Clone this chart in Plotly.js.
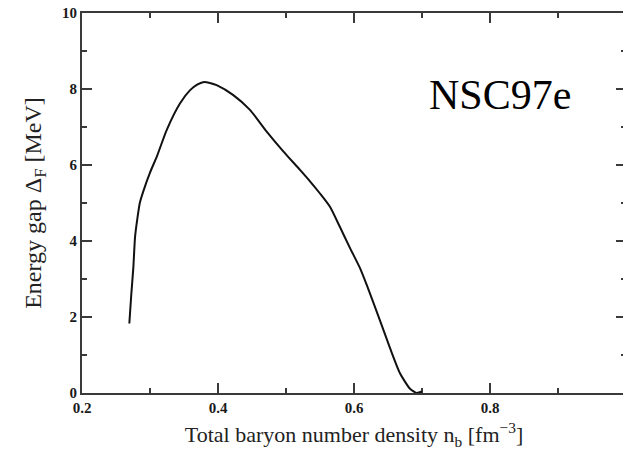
<!DOCTYPE html>
<html>
<head>
<meta charset="utf-8">
<script src="https://cdn.plot.ly/plotly-3.0.1.min.js"></script>
<style>
  html, body { margin: 0; padding: 0; overflow: hidden; background: #fff; }
  #chart { width: 628px; height: 455px; }
</style>
</head>
<body>
<div id="chart"></div>
<script>
// Pairing gap versus total baryon density (NSC97e interaction)
const density = [0.2696, 0.2725, 0.2755, 0.278, 0.2815, 0.285, 0.290, 0.300, 0.310, 0.3245,
                 0.344, 0.359, 0.370, 0.378, 0.388, 0.398, 0.4225, 0.447, 0.4716, 0.496,
                 0.5206, 0.5353, 0.550, 0.5647, 0.579, 0.594, 0.609, 0.6186, 0.638, 0.653,
                 0.6676, 0.682, 0.692, 0.700];
const gap = [1.83, 2.6, 3.3, 4.1, 4.6, 5.0, 5.3, 5.8, 6.22, 6.92,
             7.62, 7.97, 8.12, 8.18, 8.16, 8.10, 7.84, 7.45, 6.88, 6.36,
             5.87, 5.57, 5.25, 4.90, 4.38, 3.82, 3.28, 2.85, 1.92, 1.18,
             0.52, 0.12, 0.0, 0.04];

const xTicks = [0.2, 0.4, 0.6, 0.8];
const xTickText = ['0.2', '0.4', '0.6', '0.8'];
const xMinorTicks = [0.3, 0.5, 0.7, 0.9];
const yTicks = [0, 2, 4, 6, 8, 10];
const yTickText = ['0', '2', '4', '6', '8', '10'];
const yMinorTicks = [1, 3, 5, 7, 9];
const modelLabel = 'NSC97e';

const serif = 'Liberation Serif';
const axisColor = '#3a3a3a';

const W = 628, H = 455;
const margin = { l: 82, r: 2, t: 13, b: 62 };
const xRange = [0.2, 1.0];
const yRange = [0, 10];
const majorLen = 10, minorLen = 5;

// pixels per data unit, so the frame ticks keep a fixed pixel length
const pxX = (W - margin.l - margin.r) / (xRange[1] - xRange[0]);
const pxY = (H - margin.t - margin.b) / (yRange[1] - yRange[0]);

const curve = {
  x: density,
  y: gap,
  type: 'scatter',
  mode: 'lines',
  line: { color: '#111', width: 2, shape: 'spline', smoothing: 0.6 },
  hoverinfo: 'skip'
};

// Inward tick marks on all four sides, drawn as one broken line trace
const tx = [], ty = [];
function seg(x0, y0, x1, y1) { tx.push(x0, x1, null); ty.push(y0, y1, null); }
function xTickMarks(vals, len) {
  const dy = len / pxY;
  vals.forEach(v => { seg(v, yRange[0], v, yRange[0] + dy); seg(v, yRange[1], v, yRange[1] - dy); });
}
function yTickMarks(vals, len) {
  const dx = len / pxX;
  vals.forEach(v => { seg(xRange[0], v, xRange[0] + dx, v); seg(xRange[1], v, xRange[1] - dx, v); });
}
xTickMarks(xTicks.slice(1), majorLen);
xTickMarks(xMinorTicks, minorLen);
yTickMarks(yTicks.slice(1, -1), majorLen);
yTickMarks(yMinorTicks, minorLen);

const frameTicks = {
  x: tx, y: ty,
  type: 'scatter',
  mode: 'lines',
  connectgaps: false,
  line: { color: axisColor, width: 2 },
  hoverinfo: 'skip'
};

function axis(range, vals, text, title, titleSize, standoff) {
  return {
    range: range,
    tickmode: 'array',
    tickvals: vals,
    ticktext: text,
    ticks: 'inside',
    ticklen: majorLen,
    tickwidth: 2,
    tickcolor: axisColor,
    showline: true,
    linewidth: 2,
    linecolor: axisColor,
    mirror: 'ticks',
    showgrid: false,
    zeroline: false,
    tickfont: { family: serif, size: 15, color: '#1a1a1a', weight: 'bold' },
    title: { text: title, font: { family: serif, size: titleSize, color: '#222' }, standoff: standoff }
  };
}

const layout = {
  width: W,
  height: H,
  margin: margin,
  paper_bgcolor: '#fff',
  plot_bgcolor: '#fff',
  showlegend: false,
  xaxis: axis(xRange, xTicks, xTickText,
              'Total baryon number density n<sub>b</sub> [fm<sup>\u22123</sup>]', 22, 12),
  yaxis: axis(yRange, yTicks, yTickText,
              'Energy gap \u0394<sub>F</sub> [MeV]', 24, 14),
  annotations: [{
    text: modelLabel,
    xref: 'x', yref: 'y',
    x: 0.8147, y: 7.85,
    xanchor: 'center', yanchor: 'middle',
    showarrow: false,
    font: { family: serif, size: 42, color: '#000' }
  }]
};

Plotly.newPlot('chart', [frameTicks, curve], layout, { staticPlot: true, displayModeBar: false });
</script>
</body>
</html>
